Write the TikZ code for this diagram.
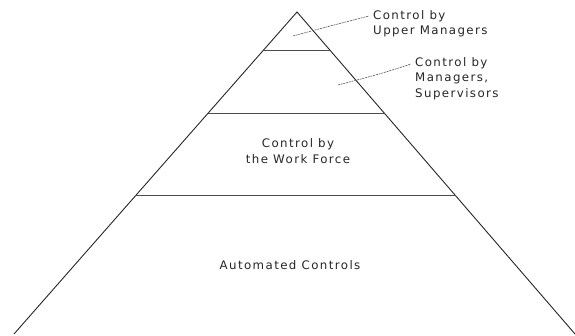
\documentclass[tikz,border=0pt]{standalone}
\usepackage{fontspec}
\setmainfont{DejaVu Sans}[LetterSpace=12]
\begin{document}
\begin{tikzpicture}[x=1pt,y=-1pt,
  edge/.style={line width=0.9pt, black!85},
  divider/.style={line width=0.9pt, black!70},
  leader/.style={line width=0.6pt, black!65, dash pattern=on 2pt off 0.8pt},
  lbl/.style={font=\fontsize{11.8}{15.5}\selectfont, text=black!85, inner sep=0pt},
]
\useasboundingbox (0,0) rectangle (575,336);
% pyramid outline
\coordinate (apex) at (297,12);
\coordinate (bl) at (14,334);
\coordinate (br) at (575,334);
\draw[edge] (bl) -- (apex) -- (br);
% tier boundaries
\path (apex) -- (bl) coordinate[pos=0.118] (d1l) coordinate[pos=0.314] (d2l) coordinate[pos=0.571] (d3l);
\path (apex) -- (br) coordinate[pos=0.118] (d1r) coordinate[pos=0.314] (d2r) coordinate[pos=0.571] (d3r);
\draw[divider] (d1l) -- (d1r);
\draw[divider] (d2l) -- (d2r);
\draw[divider] (d3l) -- (d3r);
% labels
\node[lbl, align=left, anchor=north west] (upper) at (373,10) {Control by\\Upper Managers};
\node[lbl, align=left, anchor=north west] (mgrs) at (415,57) {Control by\\Managers,\\Supervisors};
\node[lbl, align=center] (work) at (298,151) {Control by\\the Work Force};
\node[lbl] (auto) at (290,265) {Automated Controls};
% leader lines into the upper tiers
\coordinate (p1) at (293,36);
\coordinate (q1) at (369,16);
\coordinate (p2) at (338,85);
\coordinate (q2) at (411,64);
\draw[leader] (p1) .. controls (330,26) .. (q1);
\draw[leader] (p2) .. controls (380,74) .. (q2);
\end{tikzpicture}
\end{document}
